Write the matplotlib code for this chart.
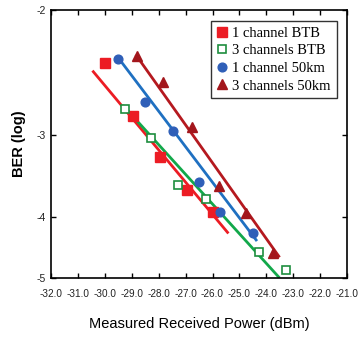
import math
import numpy as np
import matplotlib
matplotlib.use("Agg")
from matplotlib import pyplot as plt
from matplotlib.ticker import FixedLocator, FuncFormatter

# Measured points: received power (dBm) and log10(BER)
btb1_x = [-30.0, -28.95, -27.95, -26.93, -25.99]
btb1_y = [-2.36, -2.81, -3.23, -3.62, -3.93]

btb3_x = [-29.25, -28.28, -27.29, -26.25, -24.29, -23.28]
btb3_y = [-2.74, -3.03, -3.56, -3.74, -4.54, -4.85]

km1_x = [-29.50, -28.51, -27.48, -26.49, -25.72, -24.48]
km1_y = [-2.33, -2.68, -2.95, -3.53, -3.93, -4.24]

km3_x = [-28.80, -27.83, -26.75, -25.75, -24.75, -23.74]
km3_y = [-2.31, -2.51, -2.92, -3.57, -3.94, -4.56]

# Fitted lines (end points)
fit_btb1_x = [-30.46, -25.41]
fit_btb1_y = [-2.42, -4.24]
fit_btb3_x = [-29.33, -23.51]
fit_btb3_y = [-2.71, -5.0]
fit_km1_x = [-29.51, -24.35]
fit_km1_y = [-2.32, -4.36]
fit_km3_x = [-28.85, -23.51]
fit_km3_y = [-2.30, -4.63]

x_ticks = np.arange(-32, -20.5, 1.0)
y_ticks = [-2, -3, -4, -5]

# BER axis is linear in Q (dB); build the mapping from the Gaussian tail
q = np.linspace(0.1, 12, 4000)
erfc = np.vectorize(math.erfc)
logber = np.log10(0.5 * erfc(q / math.sqrt(2)))
qdb = 20 * np.log10(q)
lb_asc = logber[::-1]
t_asc = (-qdb)[::-1]

def forward(y):
    return np.interp(y, lb_asc, t_asc)

def inverse(t):
    return np.interp(t, t_asc, lb_asc)

plt.rcParams['font.family'] = ['Liberation Sans', 'DejaVu Sans']

fig = plt.figure(figsize=(3.59, 3.39), dpi=100)
ax = fig.add_axes([0.142, 0.180, 0.825, 0.791])
ax.set_yscale('function', functions=(forward, inverse))

red = '#EC1C24'
green = '#12A84A'
blue = '#1F70C1'
dred = '#B5191F'

ax.plot(fit_btb1_x, fit_btb1_y, color=red, lw=2.0, solid_capstyle='butt')
ax.plot(fit_btb3_x, fit_btb3_y, color=green, lw=2.0, solid_capstyle='butt')
ax.plot(fit_km1_x, fit_km1_y, color=blue, lw=2.0, solid_capstyle='butt')
ax.plot(fit_km3_x, fit_km3_y, color=dred, lw=2.0, solid_capstyle='butt')

ax.plot(btb1_x, btb1_y, 's', color=red, ms=6.8, mec=red, label='1 channel BTB')
ax.plot(btb3_x, btb3_y, 's', mfc='white', mec='#1E8E3E', mew=1.2, ms=6.2,
        label='3 channels BTB')
ax.plot(km1_x, km1_y, 'o', color='#2F5FB8', ms=6.3, label='1 channel 50km')
ax.plot(km3_x, km3_y, '^', color='#A3161C', ms=6.8, label='3 channels 50km')

ax.set_xlim(-32, -21)
ax.set_ylim(-5, -2)
ax.xaxis.set_major_locator(FixedLocator(x_ticks))
ax.xaxis.set_major_formatter(FuncFormatter(lambda v, p: '%.1f' % v))
ax.yaxis.set_major_locator(FixedLocator(y_ticks))
ax.yaxis.set_minor_locator(FixedLocator([]))
ax.yaxis.set_major_formatter(FuncFormatter(lambda v, p: '%d' % round(v)))

ax.tick_params(direction='in', length=3.5, width=1.0, top=True, right=True,
               labelsize=7.5, pad=4, colors='black')
ax.tick_params(axis='x', labelsize=7.2, pad=8)
for lbl in ax.get_xticklabels() + ax.get_yticklabels():
    lbl.set_color('#222222')
for sp in ax.spines.values():
    sp.set_linewidth(1.2)

ax.set_xlabel('Measured Received Power (dBm)', fontsize=10.5, labelpad=13)
ax.set_ylabel('BER (log)', fontsize=10.5, fontweight='bold', labelpad=7)

leg = ax.legend(loc='upper right', bbox_to_anchor=(0.975, 0.97),
                prop={'family': 'Liberation Serif', 'size': 10.5},
                frameon=True, fancybox=False, edgecolor='black',
                handlelength=0.8, handletextpad=0.3, labelspacing=0.3,
                borderpad=0.4, borderaxespad=0.2, numpoints=1)
leg.get_frame().set_linewidth(1.0)

fig.savefig('out.png', dpi=100)
